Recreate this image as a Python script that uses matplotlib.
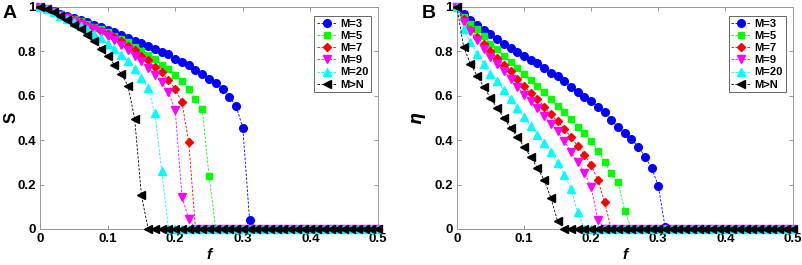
import matplotlib
matplotlib.use('Agg')
import matplotlib.pyplot as plt
import numpy as np

plt.rcParams['font.family'] = ['Liberation Sans', 'DejaVu Sans']
plt.rcParams['font.weight'] = 'bold'

f = [i / 100 for i in range(51)]

labels = ['M=3', 'M=5', 'M=7', 'M=9', 'M=20', 'M>N']

# panel A: S vs f (values up to the collapse, zeros afterwards)
S_m3 = [1, 0.99, 0.98, 0.97, 0.96, 0.95, 0.94, 0.93, 0.92, 0.91, 0.897, 0.885, 0.874, 0.862, 0.847,
        0.837, 0.825, 0.81, 0.795, 0.786, 0.766, 0.75, 0.737, 0.716, 0.698, 0.675, 0.656, 0.629,
        0.596, 0.555, 0.454, 0.04]
S_m5 = [1, 0.99, 0.98, 0.97, 0.955, 0.945, 0.935, 0.925, 0.91, 0.9, 0.885, 0.87, 0.855, 0.84, 0.82,
        0.8, 0.785, 0.765, 0.74, 0.72, 0.695, 0.665, 0.63, 0.585, 0.54, 0.24]
S_m7 = [1, 0.99, 0.98, 0.965, 0.955, 0.94, 0.93, 0.915, 0.905, 0.89, 0.88, 0.865, 0.845, 0.825,
        0.805, 0.78, 0.76, 0.73, 0.705, 0.67, 0.63, 0.57, 0.39]
S_m9 = [1, 0.99, 0.975, 0.965, 0.95, 0.935, 0.925, 0.91, 0.9, 0.885, 0.87, 0.85, 0.83, 0.805,
        0.78, 0.755, 0.725, 0.695, 0.66, 0.615, 0.535, 0.145, 0.045]
S_m20 = [1, 0.99, 0.975, 0.96, 0.945, 0.93, 0.915, 0.9, 0.88, 0.86, 0.835, 0.81, 0.785, 0.755,
         0.72, 0.68, 0.635, 0.52, 0.26]
S_inf = [1, 0.99, 0.975, 0.96, 0.94, 0.92, 0.9, 0.875, 0.845, 0.81, 0.778, 0.74, 0.70, 0.645,
         0.497, 0.152]

# panel B: eta vs f
E_m3 = [1, 0.967, 0.943, 0.918, 0.898, 0.877, 0.856, 0.835, 0.816, 0.798, 0.778, 0.763, 0.746,
        0.723, 0.704, 0.689, 0.666, 0.641, 0.618, 0.596, 0.578, 0.551, 0.525, 0.491, 0.457, 0.431,
        0.404, 0.371, 0.326, 0.274, 0.195, 0.01]
E_m5 = [1, 0.955, 0.925, 0.9, 0.87, 0.835, 0.81, 0.778, 0.753, 0.726, 0.698, 0.671, 0.644, 0.617,
        0.584, 0.554, 0.527, 0.494, 0.458, 0.431, 0.397, 0.353, 0.301, 0.251, 0.21, 0.082]
E_m7 = [1, 0.945, 0.898, 0.865, 0.831, 0.8, 0.771, 0.74, 0.711, 0.675, 0.644, 0.614, 0.587,
        0.551, 0.516, 0.484, 0.452, 0.412, 0.374, 0.334, 0.289, 0.219, 0.121]
E_m9 = [1, 0.93, 0.89, 0.85, 0.81, 0.775, 0.745, 0.71, 0.675, 0.64, 0.605, 0.575, 0.543, 0.509,
        0.472, 0.439, 0.397, 0.346, 0.301, 0.254, 0.189, 0.042]
E_m20 = [1, 0.9, 0.84, 0.79, 0.745, 0.7, 0.665, 0.625, 0.585, 0.545, 0.505, 0.465, 0.425, 0.385,
         0.345, 0.295, 0.245, 0.18, 0.075]
E_inf = [1, 0.82, 0.745, 0.69, 0.64, 0.59, 0.545, 0.5, 0.455, 0.415, 0.37, 0.325, 0.275, 0.22,
         0.14, 0.035]

colors = ['#0000ff', '#00ff00', '#ff0000', '#ff00ff', '#00ffff', '#000000']
markers = ['o', 's', 'D', 'v', '^', '<']
sizes = [5.5, 4.5, 4.5, 5.5, 5.5, 5.5]


def pad(vals):
    return vals + [0] * (len(f) - len(vals))


def draw(ax, series, ylab, ylab_weight, ylab_x):
    for vals, c, m, ms, lab in zip(series, colors, markers, sizes, labels):
        ax.plot(f, pad(vals), linestyle='--', dashes=(3, 1.8), color=c, linewidth=0.6,
                marker=m, markersize=ms, markeredgecolor=c, markerfacecolor=c, label=lab,
                clip_on=False, zorder=3)
    ax.set_xlim(0, 0.5)
    ax.set_ylim(0, 1.0)
    ax.set_xticks([0, 0.1, 0.2, 0.3, 0.4, 0.5])
    ax.set_xticklabels(['0', '0.1', '0.2', '0.3', '0.4', '0.5'])
    ax.set_yticks([0, 0.2, 0.4, 0.6, 0.8, 1])
    ax.set_yticklabels(['0', '0.2', '0.4', '0.6', '0.8', '1'])
    ax.tick_params(direction='in', length=3, width=0.6, color='#888888', labelsize=9.5,
                   top=True, right=True, pad=3)
    for sp in ax.spines.values():
        sp.set_color('#999999')
        sp.set_linewidth(0.7)
    ax.set_xlabel('f', fontsize=11, style='italic', fontweight='bold', labelpad=2)
    ax.set_ylabel(ylab, fontsize=12, fontweight=ylab_weight)
    ax.yaxis.set_label_coords(ylab_x, 0.5)
    leg = ax.legend(loc='upper right', fontsize=8, handlelength=1.8, handletextpad=0.3,
                    borderpad=0.25, labelspacing=0.2, borderaxespad=0.0,
                    bbox_to_anchor=(0.98, 0.96), fancybox=False,
                    framealpha=1, edgecolor='#666666')
    leg.get_frame().set_linewidth(0.7)
    leg.set_zorder(5)
    for t in leg.get_texts():
        t.set_fontweight('bold')


fig = plt.figure(figsize=(8.03, 2.65), dpi=100)
ax1 = fig.add_axes([0.0498, 0.136, 0.421, 0.838])
ax2 = fig.add_axes([0.569, 0.136, 0.418, 0.838])

draw(ax1, [S_m3, S_m5, S_m7, S_m9, S_m20, S_inf], 'S', 'bold', -0.062)
draw(ax2, [E_m3, E_m5, E_m7, E_m9, E_m20, E_inf], r'$\eta$', 'normal', -0.085)

fig.text(0.003, 0.95, 'A', fontsize=14, fontweight='bold', va='center', ha='left')
fig.text(0.525, 0.95, 'B', fontsize=14, fontweight='bold', va='center', ha='left')

fig.savefig('out.png', dpi=100)
